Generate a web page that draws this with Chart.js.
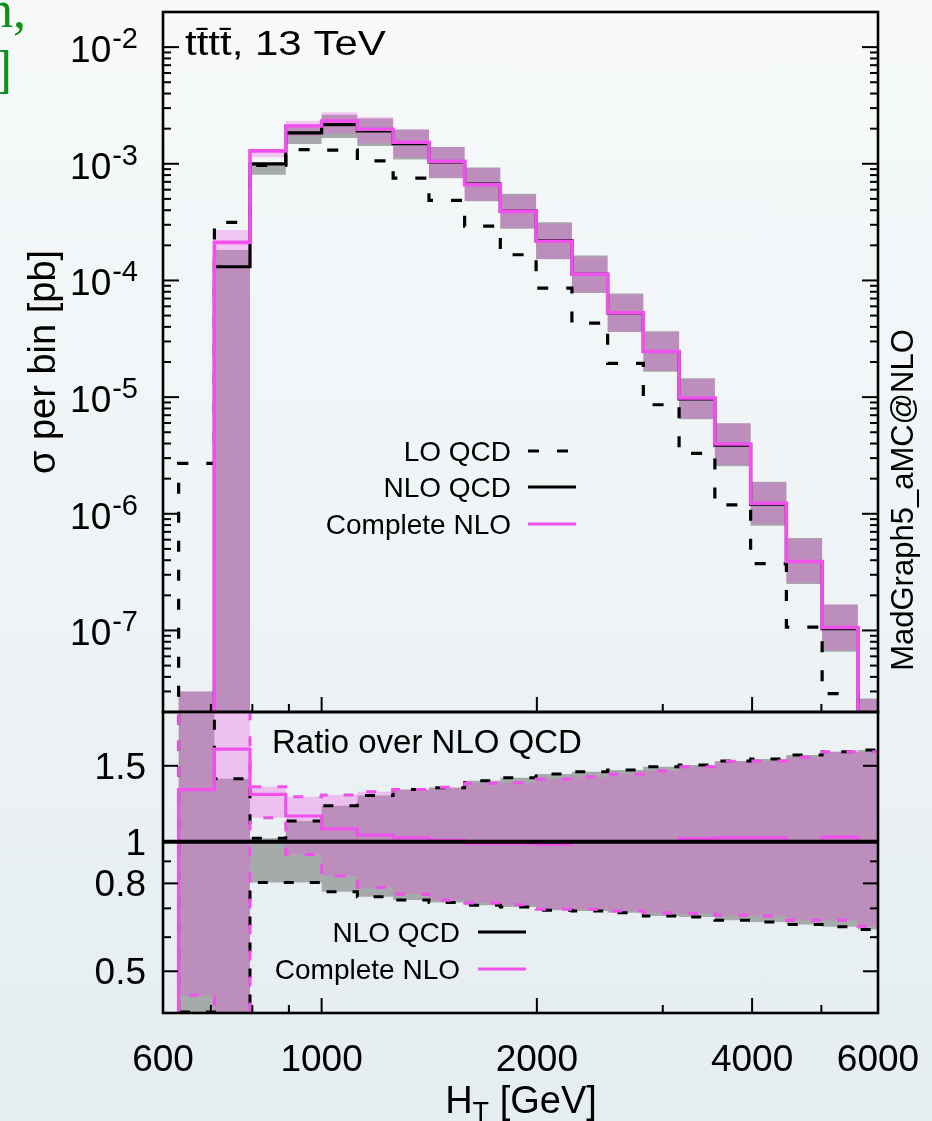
<!DOCTYPE html>
<html>
<head>
<meta charset="utf-8">
<script src="https://cdn.jsdelivr.net/npm/chart.js@4.4.1/dist/chart.umd.min.js"></script>
<style>
  html, body { margin: 0; padding: 0; }
  body {
    width: 932px; height: 1121px; overflow: hidden; position: relative;
    background: linear-gradient(to bottom, #f7f9fa 0%, #eef3f5 55%, #e4edf0 100%);
  }
  canvas { position: absolute; left: 0; top: 0; }
  .green {
    position: absolute; color: #10901a; line-height: 1; text-align: right; white-space: nowrap;
    font-family: 'Liberation Serif', 'DejaVu Serif', serif; font-size: 52px;
  }
</style>
</head>
<body>
<div class="green" style="right:906px; top:-16px;">n,</div>
<div class="green" style="right:920px; top:44px;">]</div>
<canvas id="topChart" width="932" height="1121"></canvas>
<canvas id="ratioChart" width="932" height="1121"></canvas>
<script>
// ---------------- data ----------------
// histogram bin edges in GeV (the first bin 562-631 lies left of the axis start)
const binEdges = [562, 631, 708, 794, 891, 1000, 1122, 1259, 1413, 1585, 1778, 1995,
                  2239, 2512, 2818, 3162, 3548, 3981, 4467, 5012, 5623, 6310];

// sigma per bin [pb], one value per bin (21 bins)
const loQCD = [1e-9, 2.7e-6, 3.15e-4, 9.7e-4, 1.32e-3, 1.31e-3, 1.06e-3, 7.55e-4, 4.86e-4, 2.92e-4,
               1.66e-4, 8.6e-5, 4.3e-5, 1.95e-5, 8.6e-6, 3.3e-6, 1.19e-6, 3.74e-7, 1.07e-7, 2.87e-8, 5e-9];
const nloQCD = [1e-9, 1.0e-8, 1.31e-4, 1.0e-3, 1.84e-3, 2.17e-3, 1.91e-3, 1.49e-3, 1.04e-3, 6.7e-4,
                3.93e-4, 2.2e-4, 1.13e-4, 5.28e-5, 2.46e-5, 9.65e-6, 3.88e-6, 1.21e-6, 3.9e-7, 1.035e-7, 1.6e-8];
const completeNLO = [1e-9, 1.32e-8, 2.12e-4, 1.29e-3, 2.11e-3, 2.32e-3, 1.98e-3, 1.53e-3, 1.05e-3, 6.62e-4,
                     3.91e-4, 2.17e-4, 1.13e-4, 5.28e-5, 2.46e-5, 9.84e-6, 3.96e-6, 1.23e-6, 3.9e-7, 1.06e-7, 1.6e-8];
const nloQCDLow = [1e-9, 1e-10, 1e-10, 8.04e-4, 1.48e-3, 1.66e-3, 1.42e-3, 1.09e-3, 7.5e-4, 4.77e-4,
                   2.77e-4, 1.52e-4, 7.8e-5, 3.61e-5, 1.65e-5, 6.45e-6, 2.55e-6, 7.88e-7, 2.5e-7, 6.56e-8, 1.0e-8];
const nloQCDHigh = [1e-9, 3.0e-8, 1.82e-4, 1.02e-3, 2.06e-3, 2.63e-3, 2.45e-3, 1.97e-3, 1.39e-3, 9.28e-4,
                    5.53e-4, 3.16e-4, 1.64e-4, 7.74e-5, 3.67e-5, 1.45e-5, 5.98e-6, 1.88e-6, 6.2e-7, 1.67e-7, 2.61e-8];
const completeLow = [1e-9, 4.4e-9, 1e-10, 1.14e-3, 1.72e-3, 1.81e-3, 1.50e-3, 1.13e-3, 7.6e-4, 4.82e-4,
                     2.81e-4, 1.53e-4, 7.88e-5, 3.64e-5, 1.68e-5, 6.57e-6, 2.62e-6, 8.12e-7, 2.56e-7, 6.8e-8, 1.02e-8];
const completeHigh = [1e-9, 3.0e-8, 2.71e-4, 1.34e-3, 2.33e-3, 2.77e-3, 2.51e-3, 1.97e-3, 1.39e-3, 9.14e-4,
                      5.38e-4, 3.08e-4, 1.60e-4, 7.58e-5, 3.59e-5, 1.44e-5, 5.96e-6, 1.86e-6, 6.12e-7, 1.67e-7, 2.59e-8];

// ratio over NLO QCD, one value per bin
const ratioNLO = [1, 1, 1, 1, 1, 1, 1, 1, 1, 1, 1, 1, 1, 1, 1, 1, 1, 1, 1, 1, 1];
const ratioComplete = [0.01, 1.32, 1.64, 1.288, 1.147, 1.071, 1.036, 1.02, 1.008, 0.99,
                       0.99, 0.987, 1.0, 1.0, 1.0, 1.017, 1.02, 1.02, 1.0, 1.024, 1.0];
const ratioNLOHigh = [0.01, 3.0, 1.40, 1.018, 1.116, 1.211, 1.28, 1.322, 1.334, 1.385,
                      1.407, 1.436, 1.453, 1.466, 1.492, 1.507, 1.54, 1.556, 1.589, 1.617, 1.633];
const ratioNLOLow = [0.01, 0.402, 0.1, 0.804, 0.804, 0.765, 0.745, 0.732, 0.722, 0.712,
                     0.705, 0.693, 0.69, 0.684, 0.672, 0.668, 0.657, 0.651, 0.642, 0.634, 0.625];
const ratioCompleteHigh = [0.01, 3.0, 3.0, 1.341, 1.271, 1.283, 1.306, 1.322, 1.337, 1.366,
                           1.37, 1.398, 1.415, 1.436, 1.461, 1.492, 1.537, 1.54, 1.57, 1.617, 1.617];
const ratioCompleteLow = [0.01, 0.44, 0.1, 1.136, 0.934, 0.832, 0.783, 0.755, 0.731, 0.72,
                          0.714, 0.697, 0.697, 0.69, 0.683, 0.681, 0.675, 0.671, 0.657, 0.657, 0.636];

// ticks and labels
const xTickValues = [600, 1000, 2000, 4000, 6000];
const xTickLabels = ['600', '1000', '2000', '4000', '6000'];
const xMajorTicks = [1000, 2000, 4000];
const xMinorTicks = [700, 800, 900, 3000, 5000];
const yTickExponents = ['-2', '-3', '-4', '-5', '-6', '-7'];
const ratioTickValues = [0.5, 0.8, 1, 1.5];
const ratioTickLabels = ['0.5', '0.8', '1', '1.5'];
const ratioMinorTicks = [0.6, 0.7, 0.9];
const topLegend = ['LO QCD', 'NLO QCD', 'Complete NLO'];
const ratioLegend = ['NLO QCD', 'Complete NLO'];

// ---------------- styling ----------------
const FONT = "'Liberation Sans', Arial, Helvetica, sans-serif";
const PINK = '#f050ec';
const PINK_FILL = 'rgba(240,80,227,0.3)';
const GRAY_FILL = '#a7aaab';

function steps(values) {
  return binEdges.map((e, i) => ({ x: e, y: values[Math.min(i, values.length - 1)] }));
}
function lineDs(values, color, width, dash, order, extra) {
  return Object.assign({
    data: steps(values), borderColor: color, borderWidth: width, borderDash: dash || [],
    stepped: true, pointRadius: 0, fill: false, order: order, clip: 0, tension: 0
  }, extra || {});
}

function seg(ctx, x1, y1, x2, y2) { ctx.beginPath(); ctx.moveTo(x1, y1); ctx.lineTo(x2, y2); ctx.stroke(); }

function drawFrameAndXTicks(chart) {
  const { ctx, chartArea: a } = chart;
  const xs = chart.scales.x;
  ctx.save();
  ctx.strokeStyle = '#000';
  ctx.lineWidth = 2;
  xMajorTicks.forEach(v => { const px = xs.getPixelForValue(v); seg(ctx, px, a.bottom, px, a.bottom - 15); });
  xMinorTicks.forEach(v => { const px = xs.getPixelForValue(v); seg(ctx, px, a.bottom, px, a.bottom - 8); });
  ctx.lineWidth = 2.6;
  ctx.strokeRect(a.left, a.top, a.right - a.left, a.bottom - a.top);
  ctx.restore();
}
function yTick(ctx, a, py, len) {
  seg(ctx, a.left, py, a.left + len, py);
  seg(ctx, a.right, py, a.right - len, py);
}

const topPlugin = {
  id: 'topDecor',
  afterDraw(chart) {
    const { ctx, chartArea: a } = chart;
    const ys = chart.scales.y;
    ctx.save();
    ctx.strokeStyle = '#000'; ctx.lineWidth = 2;
    for (let e = -8; e <= -2; e++) {
      for (let m = 1; m <= 9; m++) {
        const v = m * Math.pow(10, e);
        if (v < ys.min * 0.999 || v > ys.max * 1.001) continue;
        const py = ys.getPixelForValue(v);
        if (py < a.top + 1 || py > a.bottom - 1) continue;
        yTick(ctx, a, py, m === 1 ? 16 : 8);
      }
    }
    ctx.restore();
    drawFrameAndXTicks(chart);

    ctx.save();
    ctx.fillStyle = '#000';
    ctx.textBaseline = 'alphabetic';
    // y tick labels 10^-n
    const R = 138;
    yTickExponents.forEach(exp => {
      const py = ys.getPixelForValue(Math.pow(10, Number(exp)));
      ctx.font = `29px ${FONT}`; const ws = ctx.measureText(exp).width;
      ctx.font = `37px ${FONT}`; const wb = ctx.measureText('10').width;
      ctx.textAlign = 'left';
      ctx.fillText('10', R - ws - wb - 1, py + 15);
      ctx.font = `29px ${FONT}`;
      ctx.fillText(exp, R - ws, py + 1);
    });
    // y title
    ctx.save();
    ctx.translate(55, 362);
    ctx.rotate(-Math.PI / 2);
    ctx.font = `38px ${FONT}`;
    ctx.textAlign = 'center';
    ctx.fillText('σ per bin [pb]', 0, 0);
    ctx.restore();
    // process label (slightly wide lettering as in the original)
    ctx.save();
    ctx.translate(185, 55);
    ctx.scale(1.2, 1);
    ctx.font = `35px ${FONT}`;
    ctx.textAlign = 'left';
    ctx.fillText('tt\u0304tt\u0304, 13 TeV', 0, 0);
    ctx.restore();
    // generator label on right
    ctx.save();
    ctx.translate(913, 500);
    ctx.rotate(-Math.PI / 2);
    ctx.font = `31px ${FONT}`;
    ctx.textAlign = 'center';
    ctx.fillText('MadGraph5_aMC@NLO', 0, 0);
    ctx.restore();
    // legend
    ctx.font = `28px ${FONT}`;
    ctx.textAlign = 'right';
    const rows = [451, 487, 524];
    topLegend.forEach((t, i) => ctx.fillText(t, 511, rows[i] + 10));
    ctx.lineWidth = 3.2;
    ctx.strokeStyle = '#000';
    ctx.setLineDash([11, 18]);
    seg(ctx, 528, rows[0], 576, rows[0]);
    ctx.setLineDash([]);
    seg(ctx, 528, rows[1], 576, rows[1]);
    ctx.strokeStyle = PINK;
    seg(ctx, 528, rows[2], 576, rows[2]);
    ctx.restore();
  }
};

const ratioPlugin = {
  id: 'ratioDecor',
  afterDraw(chart) {
    const { ctx, chartArea: a } = chart;
    const ys = chart.scales.y, xs = chart.scales.x;
    ctx.save();
    ctx.strokeStyle = '#000'; ctx.lineWidth = 2;
    ratioTickValues.forEach(v => yTick(ctx, a, ys.getPixelForValue(v), 15));
    ratioMinorTicks.forEach(v => yTick(ctx, a, ys.getPixelForValue(v), 8));
    ctx.restore();
    drawFrameAndXTicks(chart);

    ctx.save();
    ctx.fillStyle = '#000';
    ctx.textBaseline = 'alphabetic';
    ctx.font = `37px ${FONT}`;
    ctx.textAlign = 'right';
    ratioTickValues.forEach((v, i) => ctx.fillText(ratioTickLabels[i], 146, ys.getPixelForValue(v) + 13));
    ctx.textAlign = 'center';
    xTickValues.forEach((v, i) => ctx.fillText(xTickLabels[i], xs.getPixelForValue(v), 1071));
    // x title H_T [GeV]
    ctx.font = `38px ${FONT}`; const wH = ctx.measureText('H').width;
    const wR = ctx.measureText(' [GeV]').width;
    ctx.font = `27px ${FONT}`; const wT = ctx.measureText('T').width;
    let x0 = 521 - (wH + wT + wR) / 2;
    ctx.textAlign = 'left';
    ctx.font = `38px ${FONT}`; ctx.fillText('H', x0, 1113);
    ctx.font = `27px ${FONT}`; ctx.fillText('T', x0 + wH, 1121);
    ctx.font = `38px ${FONT}`; ctx.fillText(' [GeV]', x0 + wH + wT, 1113);
    // panel label
    ctx.font = `33px ${FONT}`;
    ctx.fillText('Ratio over NLO QCD', 272, 753);
    // legend
    ctx.font = `28px ${FONT}`;
    ctx.textAlign = 'right';
    const rows = [932, 969];
    ratioLegend.forEach((t, i) => ctx.fillText(t, 460, rows[i] + 10));
    ctx.lineWidth = 3.2;
    ctx.strokeStyle = '#000';
    seg(ctx, 478, rows[0], 526, rows[0]);
    ctx.strokeStyle = PINK;
    seg(ctx, 478, rows[1], 526, rows[1]);
    ctx.restore();
  }
};

function baseOptions(ymin, ymax, padding) {
  return {
    responsive: false, animation: false, events: [],
    layout: { padding: padding },
    scales: {
      x: { type: 'logarithmic', min: 600, max: 6000, display: false },
      y: { type: 'logarithmic', min: ymin, max: ymax, display: false }
    },
    plugins: {
      legend: { display: false }, tooltip: { enabled: false },
      filler: { drawTime: 'beforeDatasetsDraw', propagate: false }
    }
  };
}

new Chart(document.getElementById('topChart'), {
  type: 'line',
  data: {
    datasets: [
      lineDs(completeNLO, PINK, 3.6, null, 1, { label: 'Complete NLO' }),
      lineDs(nloQCD, '#000', 3.2, null, 2, { label: 'NLO QCD' }),
      lineDs(loQCD, '#000', 3.2, [11, 18], 3, { label: 'LO QCD' }),
      lineDs(completeHigh, PINK, 0, null, 4, { fill: '+1', backgroundColor: PINK_FILL, label: 'Complete NLO band' }),
      lineDs(completeLow, PINK, 0, null, 5, { label: 'Complete NLO band low' }),
      lineDs(nloQCDHigh, '#888', 0, null, 6, { fill: '+1', backgroundColor: GRAY_FILL, label: 'NLO QCD band' }),
      lineDs(nloQCDLow, '#888', 0, null, 7, { label: 'NLO QCD band low' })
    ]
  },
  options: baseOptions(2e-8, 2e-2, { left: 163, right: 54, top: 12, bottom: 409 }),
  plugins: [topPlugin]
});

new Chart(document.getElementById('ratioChart'), {
  type: 'line',
  data: {
    datasets: [
      lineDs(ratioNLO, '#000', 4, null, 1, { label: 'NLO QCD' }),
      lineDs(ratioComplete, PINK, 3.2, null, 2, { label: 'Complete NLO' }),
      lineDs(ratioCompleteHigh, PINK, 3, [10, 16], 4, { fill: '+1', backgroundColor: PINK_FILL, label: 'Complete NLO band' }),
      lineDs(ratioCompleteLow, PINK, 3, [10, 16], 5, { label: 'Complete NLO band low' }),
      lineDs(ratioNLOHigh, '#000', 3, [10, 16], 6, { fill: '+1', backgroundColor: GRAY_FILL, label: 'NLO QCD band' }),
      lineDs(ratioNLOLow, '#000', 3, [10, 16], 7, { label: 'NLO QCD band low' })
    ]
  },
  options: baseOptions(0.4, 2.0, { left: 163, right: 54, top: 712, bottom: 108 }),
  plugins: [ratioPlugin]
});
</script>
</body>
</html>
